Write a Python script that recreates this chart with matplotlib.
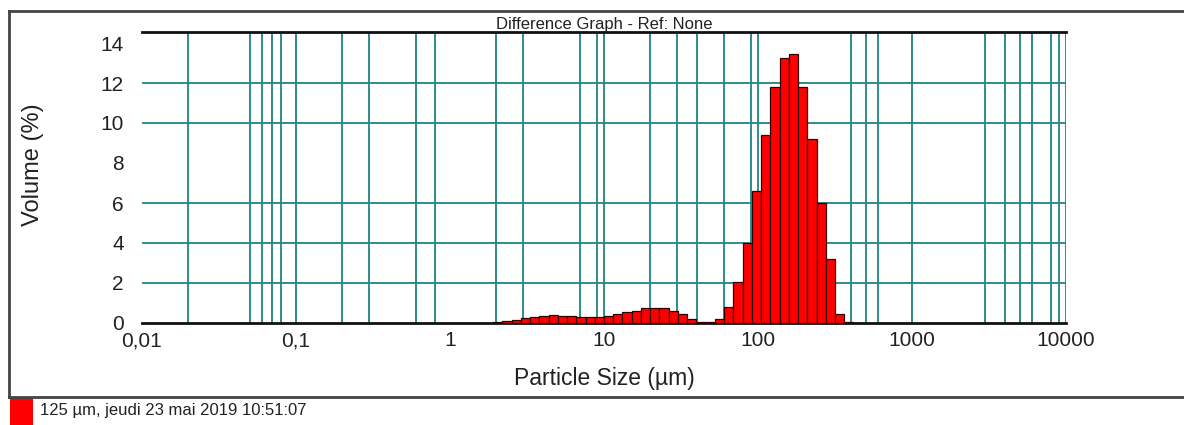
import numpy as np
import matplotlib
matplotlib.use("Agg")
import matplotlib.pyplot as plt
from matplotlib.lines import Line2D
from matplotlib.patches import Rectangle

# bin edges (µm), log spaced classes of the analyser
bin_edges = [1.905, 2.188, 2.512, 2.884, 3.311, 3.802, 4.365, 5.012, 5.754, 6.607,
             7.586, 8.710, 10.00, 11.48, 13.18, 15.14, 17.38, 19.95, 22.91, 26.30,
             30.20, 34.67, 39.81, 45.71, 52.48, 60.26, 69.18, 79.43, 91.20, 104.7,
             120.2, 138.0, 158.5, 182.0, 208.9, 239.9, 275.4, 316.2, 363.1, 416.9]
# volume (%) per class
volume = [0.03, 0.08, 0.17, 0.25, 0.30, 0.37, 0.38, 0.37, 0.33, 0.31,
          0.30, 0.32, 0.37, 0.45, 0.55, 0.62, 0.75, 0.77, 0.73, 0.60,
          0.45, 0.22, 0.05, 0.04, 0.22, 0.80, 2.05, 4.00, 6.60, 9.40,
          11.80, 13.25, 13.45, 11.80, 9.20, 6.00, 3.20, 0.45, 0.05]

x_ticks = [0.01, 0.1, 1, 10, 100, 1000, 10000]
x_tick_labels = ["0,01", "0,1", "1", "10", "100", "1000", "10000"]
y_ticks = [0, 2, 4, 6, 8, 10, 12, 14]
v_grid = [0.02, 0.05, 0.06, 0.07, 0.08, 0.1, 0.2, 0.3, 0.6, 0.8, 2, 3, 7, 9, 10,
          20, 30, 40, 60, 90, 100, 400, 500, 600, 1000, 3000, 4000, 5000, 6000,
          8000, 9000, 10000]
h_grid = [2, 4, 6, 10, 12]

plt.rcParams['font.family'] = ['Liberation Sans', 'DejaVu Sans']

W, H = 1184, 425
fig = plt.figure(figsize=(W / 100, H / 100), dpi=100)
ax = fig.add_axes([142 / W, 1 - 323 / H, (1066 - 142) / W, (323 - 32) / H])

edges = np.array(bin_edges)
ax.bar(edges[:-1], volume, width=np.diff(edges), align='edge',
       color='#ff0000', edgecolor='#300000', linewidth=0.9, zorder=3)

grid_col = '#1f8585'
for g in v_grid:
    ax.axvline(g, color=grid_col, linewidth=1.3, zorder=1)
for g in h_grid:
    ax.axhline(g, color=grid_col, linewidth=1.3, zorder=1)

ax.set_xscale('log')
ax.set_xlim(0.01, 10000)
ax.set_ylim(0, 14.55)
ax.set_xticks(x_ticks)
ax.set_xticklabels(x_tick_labels)
ax.xaxis.set_minor_locator(matplotlib.ticker.NullLocator())
ax.set_yticks(y_ticks)
ax.tick_params(length=0, labelsize=15, colors='#222222')
ax.tick_params(axis='y', pad=13)
ax.tick_params(axis='x', pad=6)
for side in ['left', 'right']:
    ax.spines[side].set_visible(False)
for side in ['top', 'bottom']:
    ax.spines[side].set_linewidth(2)
    ax.spines[side].set_color('#111111')

ax.set_xlabel("Particle Size (µm)", fontsize=16.5, color='#222222', va='center')
ax.xaxis.set_label_coords(0.5, (323 - 379) / 291)
ax.set_ylabel("Volume (%)", fontsize=17, color='#222222', va='center')
ax.yaxis.set_label_coords((33 - 142) / 924, (323 - 165) / 291)
ax.set_title("Difference Graph - Ref: None", fontsize=12, color='#222222', pad=2)

# outer frame
fc = '#444444'
fig.add_artist(Line2D([9 / W, 1], [1 - 11 / H, 1 - 11 / H], color=fc, linewidth=2))
fig.add_artist(Line2D([9 / W, 9 / W], [1 - 11 / H, 1 - 397 / H], color=fc, linewidth=2))
fig.add_artist(Line2D([9 / W, 1], [1 - 397 / H, 1 - 397 / H], color=fc, linewidth=2))

# legend entry
fig.add_artist(Rectangle((10 / W, 0), 23 / W, 27 / H, facecolor='#ff0000', edgecolor='none'))
fig.text(40 / W, 1 - 411 / H, "125 µm, jeudi 23 mai 2019 10:51:07", fontsize=12,
         color='#222222', va='center', ha='left')

fig.savefig("out.png", dpi=100)
